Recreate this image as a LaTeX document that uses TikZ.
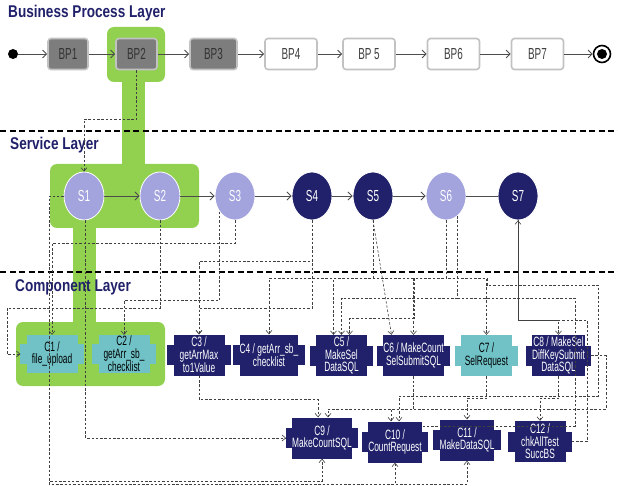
\documentclass[tikz,border=0pt]{standalone}
\usepackage{fontspec}
\setmainfont{Liberation Sans}[FakeStretch=0.62]
\newfontfamily\headfont{Liberation Sans}[FakeStretch=0.8]
\usepackage{tikz}
\usetikzlibrary{arrows.meta, positioning, calc, shapes.geometric}
\definecolor{DeepNavy}{rgb}{0.13, 0.13, 0.42}
\definecolor{Lavender}{rgb}{0.64, 0.64, 0.87}
\definecolor{Teal}{rgb}{0.44, 0.76, 0.78}
\definecolor{Leaf}{rgb}{0.57, 0.82, 0.31}
\definecolor{StepGray}{rgb}{0.49, 0.49, 0.49}
\definecolor{EdgeGray}{rgb}{0.76, 0.76, 0.76}
\pgfdeclarelayer{hilite}
\pgfdeclarelayer{tabs}
\pgfsetlayers{hilite,tabs,main}

\begin{document}
\begin{tikzpicture}[
    x=1pt, y=-1pt,
    title/.style={anchor=west, inner sep=0pt, text=DeepNavy,
        font=\headfont\bfseries\fontsize{17}{17}\selectfont},
    sep/.style={line width=1.6pt, dash pattern=on 6pt off 3.5pt},
    bpbox/.style={draw=EdgeGray, line width=1.6pt, rounded corners=3pt,
        minimum width=52pt, minimum height=31pt, inner sep=0pt,
        font=\fontsize{16}{16}\selectfont},
    donebox/.style={bpbox, fill=StepGray, text=black!80},
    openbox/.style={bpbox, fill=white, text=black!75},
    svc/.style={ellipse, draw=white, line width=0.8pt, minimum width=40pt,
        minimum height=48pt, inner sep=0pt, text=white, font=\fontsize{16}{16}\selectfont},
    comp/.style={minimum width=51pt, minimum height=41pt, inner sep=0pt, align=center,
        font=\fontsize{13.5}{12.5}\selectfont},
    navycomp/.style={comp, fill=DeepNavy, text=white},
    tealcomp/.style={comp, fill=Teal, text=black},
    flow/.style={-{Straight Barb[length=4pt,width=8pt]}, line width=0.9pt, black!70},
    dep/.style={-{Straight Barb[length=3.5pt,width=6pt]}, line width=0.6pt, black!75,
        dash pattern=on 2.5pt off 1.8pt},
    link/.style={line width=0.6pt, black!75, dash pattern=on 2.5pt off 1.8pt},
]
\useasboundingbox (0,0) rectangle (618,486);

% resaltado
\begin{pgfonlayer}{hilite}
\fill[Leaf, rounded corners=7pt] (107,27) rectangle (165,82);
\fill[Leaf] (122,75) rectangle (145,170);
\fill[Leaf, rounded corners=7pt] (50,164) rectangle (199,228);
\fill[Leaf] (73,220) rectangle (96,330);
\fill[Leaf, rounded corners=7pt] (16,322) rectangle (165,386);
\end{pgfonlayer}

% capas
\node[title] (tbp) at (8,13) {Business Process Layer};
\node[title] (tsv) at (10,145) {Service Layer};
\node[title] (tcp) at (15,287) {Component Layer};
\draw[sep] (0,131) -- (618,131);
\draw[sep] (0,272) -- (618,272);

% procesos
\node[circle, fill=black, minimum size=10pt, inner sep=0pt] (start) at (13,54) {};
\node[donebox, minimum width=40pt] (bp1) at (68,54) {BP1};
\node[donebox, minimum width=41pt] (bp2) at (136.5,54) {BP2};
\node[donebox, minimum width=47pt] (bp3) at (213.5,54) {BP3};
\node[openbox] (bp4) at (291,54) {BP4};
\node[openbox] (bp5) at (369,54) {BP 5};
\node[openbox] (bp6) at (453.5,54) {BP6};
\node[openbox] (bp7) at (537.5,54) {BP7};
\node[circle, draw, line width=1.6pt, minimum size=17pt, inner sep=0pt] (stop) at (602,54) {};
\fill (stop.center) circle (5pt);

\foreach \a/\b in {start/bp1,bp1/bp2,bp2/bp3,bp3/bp4,bp4/bp5,bp5/bp6,bp6/bp7,bp7/stop}
    \draw[flow] (\a) -- (\b);

% servicios
\node[svc, fill=Lavender] (s1) at (84,196) {S1};
\node[svc, fill=Lavender] (s2) at (160,196) {S2};
\node[svc, fill=Lavender] (s3) at (235,196) {S3};
\node[svc, fill=DeepNavy] (s4) at (312,196) {S4};
\node[svc, fill=DeepNavy] (s5) at (373,196) {S5};
\node[svc, fill=Lavender] (s6) at (446,196) {S6};
\node[svc, fill=DeepNavy] (s7) at (518,196) {S7};

\foreach \a/\b in {s1/s2,s2/s3,s3/s4,s4/s5,s5/s6}
    \draw[flow] (\a) -- (\b);
\draw[line width=0.9pt, black!70] (s6) -- (s7);

% componentes
\node[tealcomp, minimum height=38pt] (c1) at (52,354) {C1 /\\file\_upload};
\node[tealcomp, minimum height=38pt] (c2) at (124,354) {C2 /\\getArr\_sb\_\\checklist};
\node[navycomp] (c3) at (199,355) {C3 /\\getArrMax\\to1Value};
\node[navycomp] (c4) at (269,355) {C4 / getArr\_sb\_\\checklist};
\node[navycomp] (c5) at (341.5,355.5) {C5 /\\MakeSel\\DataSQL};
\node[navycomp] (c6) at (413.5,355.5) {C6 / MakeCount\\SelSubmitSQL};
\node[tealcomp] (c7) at (486.5,355.5) {C7 /\\SelRequest};
\node[navycomp] (c8) at (558.5,355.5) {C8 / MakeSel\\DiffKeySubmit\\DataSQL};
\node[navycomp] (c9) at (322,438) {C9 /\\MakeCountSQL};
\node[navycomp] (c10) at (395,442) {C10 /\\CountRequest};
\node[navycomp] (c11) at (467,440) {C11 /\\MakeDataSQL};
\node[navycomp] (c12) at (540,441.5) {C12 /\\chkAllTest\\SuccBS};

\begin{pgfonlayer}{tabs}
\foreach \n/\col in {c1/Teal,c2/Teal,c3/DeepNavy,c4/DeepNavy,c5/DeepNavy,c6/DeepNavy,
        c7/Teal,c8/DeepNavy,c9/DeepNavy,c10/DeepNavy,c11/DeepNavy,c12/DeepNavy}
    \fill[\col] ([xshift=-6pt,yshift=-10pt]\n.west) rectangle ([xshift=6pt,yshift=10pt]\n.east);
\end{pgfonlayer}

% dependencias
\draw[dep] (bp2.south) -- ++(0,49) -| (s1.north);
\draw[dep] (s1.west) -| (49,481) -| (c9.south);
\draw[dep] (s1.west) -| (49,484) -| (c10.south);
\draw[dep] (s1.west) -| (49,484) -| (c11.south);
\draw[dep] ([xshift=1.5pt]s1.south) |- ([xshift=-6pt]c9.west);
\draw[dep] (s2.south) |- (7,308) |- ([xshift=-6pt]c1.west);
\draw[dep] (s3.225) -- ++(0,89) -| (c2.north);
\draw[dep] (s3.south) -- ++(0,23) -| (c1.north);
\draw[dep] (s4.south) -- ++(0,41) -| (c3.north);
\draw[dep] (s4.south) -- ++(0,88) -| (c3.north);
\draw[dep] (s5.south) -- ++(0,58) -| (c4.north);
\draw[dep] (s5.south) -- ([xshift=-22pt]c6.north);
\draw[dep] (s6.south) -- ++(0,58) -| ([xshift=-8pt]c5.north);
\draw[dep] (s6.south) -- ++(0,58) -| (414,318) -| ([xshift=8pt]c5.north);
\draw[dep] (s6.south) -- ++(0,58) -| (c6.north);
\draw[dep] (s6.south) -- ++(0,58) -| (c7.north);
\draw[dep] (s6.300) -- ++(0,82) -| (c5.north);
\draw[link] (s6.300) -- ++(0,82) -| (575,426) -- (c10.north east |- 0,426);
\draw[dep] (s6.south) -- ++(0,58) -| (487,285) -| (598,396) -| ([xshift=4pt]c10.north);
\draw[dep] (s7.south) -- ++(0,100) -| (c8.north);
\draw[dep] ([xshift=6pt]c12.east) -| (587,320) -| (s7.south);

% entre componentes
\draw[dep] (c3.south) -- ++(0,24) -| ([xshift=-4pt]c9.north);
\draw[dep] ([xshift=6pt]c8.east) -| (606,409) -| ([xshift=6pt]c9.north);
\draw[dep] (c6.south) -- ++(0,33) -| ([xshift=-4pt]c10.north);
\draw[dep] (c7.south) -- ++(0,22) -| (c11.north);
\draw[dep] (c8.south) -- ++(0,22) -| (c12.north);

\end{tikzpicture}
\end{document}
